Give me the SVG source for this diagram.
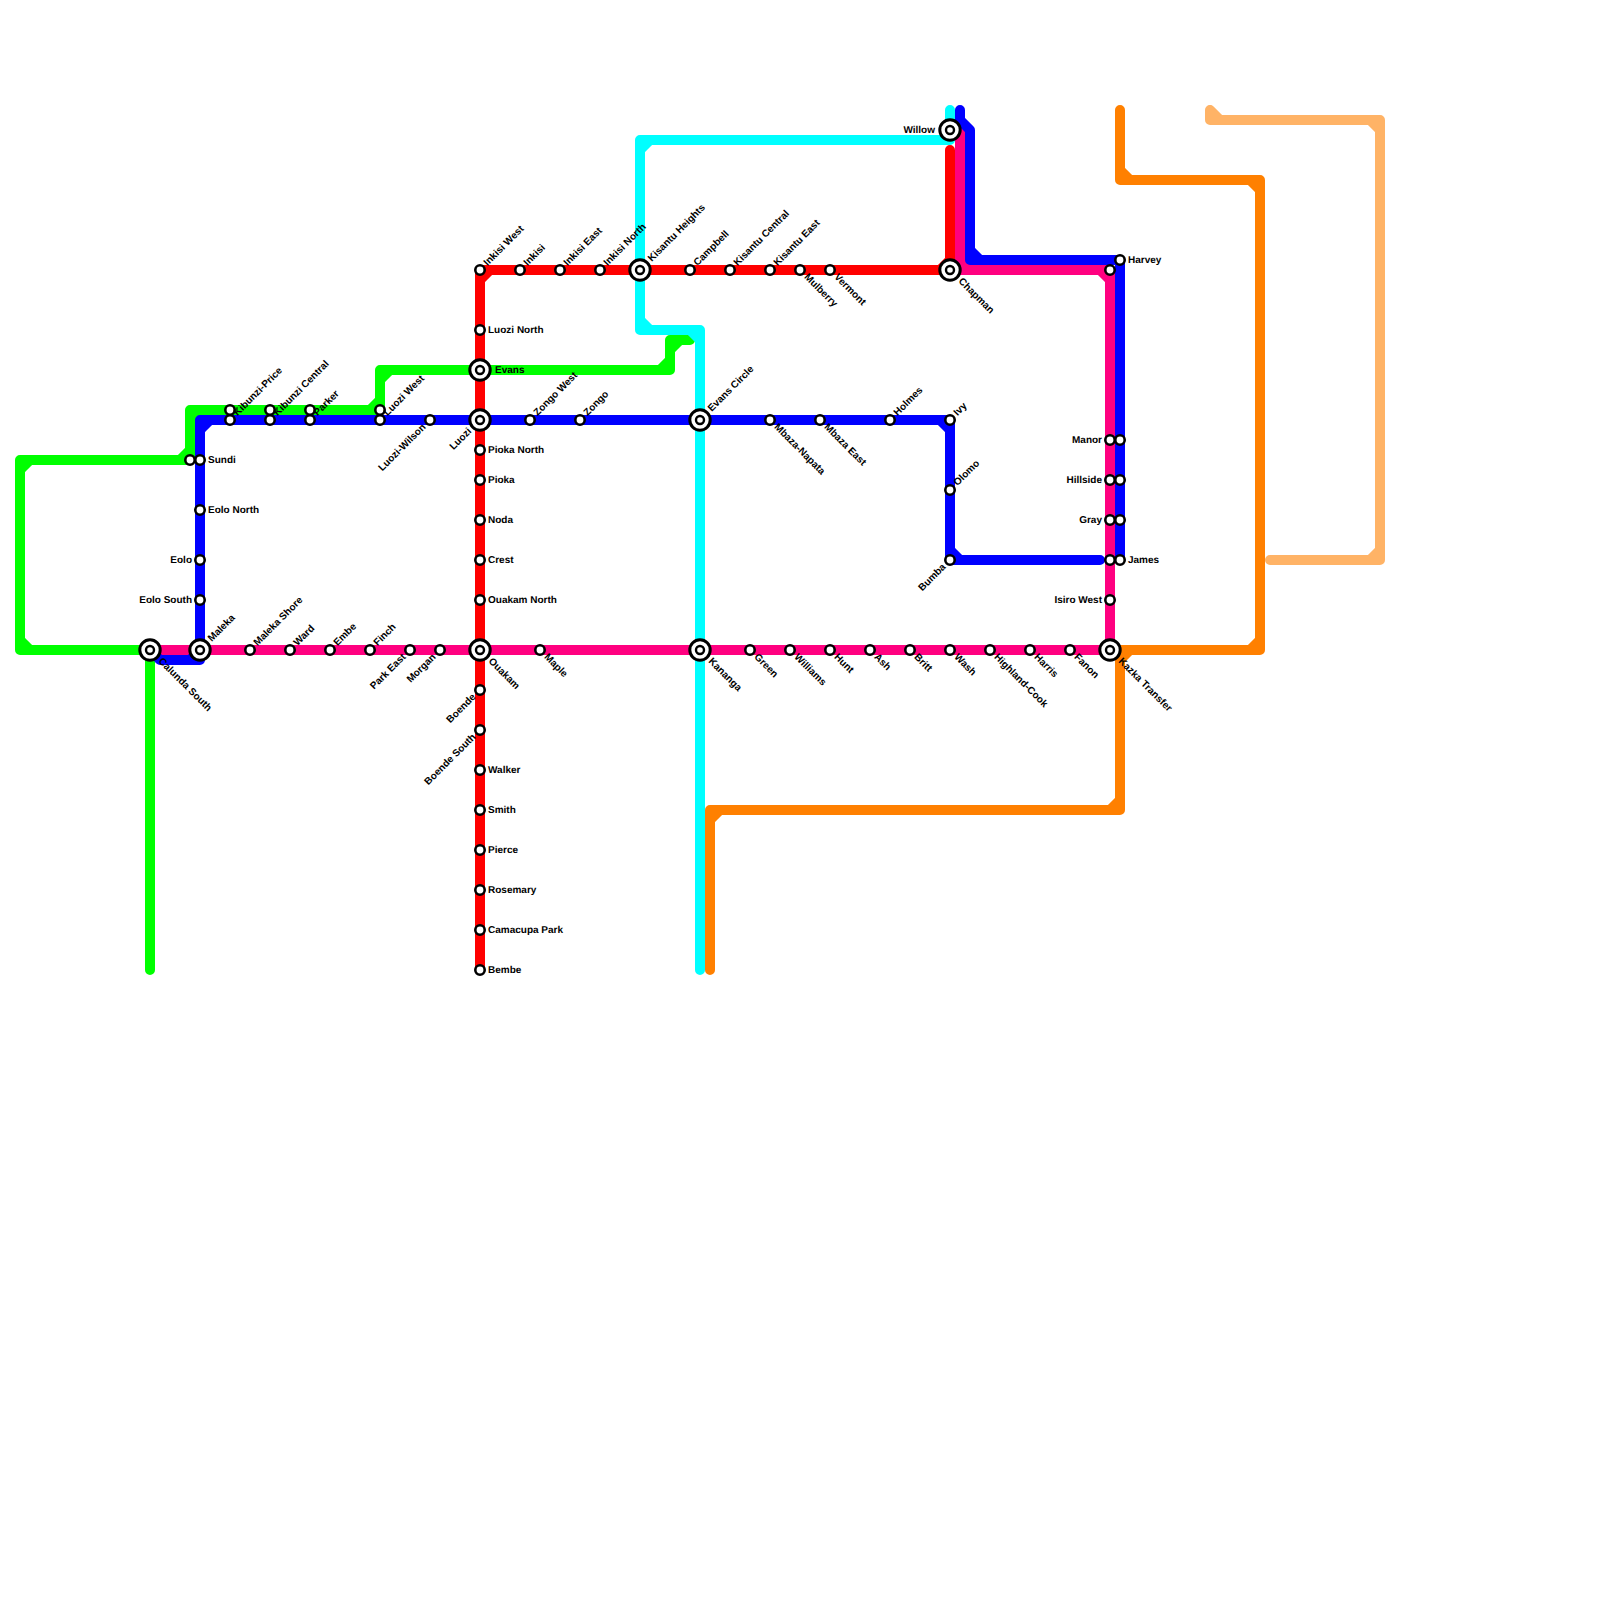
<svg xmlns="http://www.w3.org/2000/svg" width="1600" height="1600" viewBox="0 0 1600 1600">
<style>
.ln{fill:none;stroke-width:10;stroke-linecap:round;stroke-linejoin:round}
.s{fill:#fff;stroke:#000;stroke-width:2.6}
.o{fill:#fff;stroke:#000;stroke-width:3}
.c{fill:#fff;stroke:#000;stroke-width:2.4}
text{font-family:"Liberation Sans",Arial,sans-serif;font-weight:700;font-size:10px;fill:#000;text-rendering:geometricPrecision}
.e{text-anchor:end}
</style>
<rect width="1600" height="1600" fill="#fff"/>
<g id="connectors">
<path id="line-peach" class="ln" stroke="#ffb366" d="M1210 110V120H1380V560H1270M1210 110L1220 120M1370 120L1380 130M1380 550L1370 560"/>
<path id="line-orange" class="ln" stroke="#ff8000" d="M1120 110V180H1260V650H1120V810H710V970M1120 170L1130 180M1250 180L1260 190M1260 640L1250 650M1120 660L1130 650M1120 800L1110 810M710 820L720 810"/>
<path id="line-lime" class="ln" stroke="#00ff00" d="M150 970V650H20V460H190V410H380V370H670V340H690M30 650L20 640M20 470L30 460M180 460L190 450M190 420L200 410M370 410L380 400M380 380L390 370M660 370L670 360M670 350L680 340"/>
<path id="line-cyan" class="ln" stroke="#00ffff" d="M950 110V140H640V330H700V970M640 150L650 140M640 320L650 330M690 330L700 340"/>
<path id="line-pink" class="ln" stroke="#ff0080" d="M150 650H1110V270H960V125M1110 280L1100 270M960 260L970 270"/>
<path id="line-red" class="ln" stroke="#ff0000" d="M480 970V270H950V150M480 280L490 270M940 270L950 260"/>
<path id="line-blue-1" class="ln" stroke="#0000ff" d="M150 650L160 660H200V420H950V560H1100M190 660L200 650M200 430L210 420M940 420L950 430M950 550L960 560"/>
<path id="line-blue-2" class="ln" stroke="#0000ff" d="M1120 560V260H970V130L960 120V110M970 250L980 260"/>
</g>
<g id="stations">
<g id="n-unnamed-190-460" transform="translate(190 460)"><circle class="s" r="4.7"/></g>
<g id="n-sundi" transform="translate(200 460)"><circle class="s" r="4.7"/><text x="8" y="2.7">Sundi</text></g>
<g id="n-eolo-north" transform="translate(200 510)"><circle class="s" r="4.7"/><text x="8" y="2.7">Eolo North</text></g>
<g id="n-eolo" transform="translate(200 560)"><circle class="s" r="4.7"/><text class="e" x="-8" y="2.7">Eolo</text></g>
<g id="n-eolo-south" transform="translate(200 600)"><circle class="s" r="4.7"/><text class="e" x="-8" y="2.7">Eolo South</text></g>
<g id="n-unnamed-230-410" transform="translate(230 410)"><circle class="s" r="4.7"/></g>
<g id="n-kibunzi-price" transform="translate(230 420)"><circle class="s" r="4.7"/><text x="8" y="2.7" transform="rotate(-45)">Kibunzi-Price</text></g>
<g id="n-unnamed-270-410" transform="translate(270 410)"><circle class="s" r="4.7"/></g>
<g id="n-kibunzi-central" transform="translate(270 420)"><circle class="s" r="4.7"/><text x="8" y="2.7" transform="rotate(-45)">Kibunzi Central</text></g>
<g id="n-unnamed-310-410" transform="translate(310 410)"><circle class="s" r="4.7"/></g>
<g id="n-parker" transform="translate(310 420)"><circle class="s" r="4.7"/><text x="8" y="2.7" transform="rotate(-45)">Parker</text></g>
<g id="n-unnamed-380-410" transform="translate(380 410)"><circle class="s" r="4.7"/></g>
<g id="n-luozi-west" transform="translate(380 420)"><circle class="s" r="4.7"/><text x="8" y="2.7" transform="rotate(-45)">Luozi West</text></g>
<g id="n-luozi-wilson" transform="translate(430 420)"><circle class="s" r="4.7"/><text class="e" x="-8" y="2.7" transform="rotate(-45)">Luozi-Wilson</text></g>
<g id="n-maleka-shore" transform="translate(250 650)"><circle class="s" r="4.7"/><text x="8" y="2.7" transform="rotate(-45)">Maleka Shore</text></g>
<g id="n-ward" transform="translate(290 650)"><circle class="s" r="4.7"/><text x="8" y="2.7" transform="rotate(-45)">Ward</text></g>
<g id="n-embe" transform="translate(330 650)"><circle class="s" r="4.7"/><text x="8" y="2.7" transform="rotate(-45)">Embe</text></g>
<g id="n-finch" transform="translate(370 650)"><circle class="s" r="4.7"/><text x="8" y="2.7" transform="rotate(-45)">Finch</text></g>
<g id="n-park-east" transform="translate(410 650)"><circle class="s" r="4.7"/><text class="e" x="-8" y="2.7" transform="rotate(-45)">Park East</text></g>
<g id="n-morgan" transform="translate(440 650)"><circle class="s" r="4.7"/><text class="e" x="-8" y="2.7" transform="rotate(-45)">Morgan</text></g>
<g id="n-maple" transform="translate(540 650)"><circle class="s" r="4.7"/><text x="8" y="2.7" transform="rotate(45)">Maple</text></g>
<g id="n-green" transform="translate(750 650)"><circle class="s" r="4.7"/><text x="8" y="2.7" transform="rotate(45)">Green</text></g>
<g id="n-williams" transform="translate(790 650)"><circle class="s" r="4.7"/><text x="8" y="2.7" transform="rotate(45)">Williams</text></g>
<g id="n-hunt" transform="translate(830 650)"><circle class="s" r="4.7"/><text x="8" y="2.7" transform="rotate(45)">Hunt</text></g>
<g id="n-ash" transform="translate(870 650)"><circle class="s" r="4.7"/><text x="8" y="2.7" transform="rotate(45)">Ash</text></g>
<g id="n-britt" transform="translate(910 650)"><circle class="s" r="4.7"/><text x="8" y="2.7" transform="rotate(45)">Britt</text></g>
<g id="n-wash" transform="translate(950 650)"><circle class="s" r="4.7"/><text x="8" y="2.7" transform="rotate(45)">Wash</text></g>
<g id="n-highland-cook" transform="translate(990 650)"><circle class="s" r="4.7"/><text x="8" y="2.7" transform="rotate(45)">Highland-Cook</text></g>
<g id="n-harris" transform="translate(1030 650)"><circle class="s" r="4.7"/><text x="8" y="2.7" transform="rotate(45)">Harris</text></g>
<g id="n-fanon" transform="translate(1070 650)"><circle class="s" r="4.7"/><text x="8" y="2.7" transform="rotate(45)">Fanon</text></g>
<g id="n-inkisi-west" transform="translate(480 270)"><circle class="s" r="4.7"/><text x="8" y="2.7" transform="rotate(-45)">Inkisi West</text></g>
<g id="n-inkisi" transform="translate(520 270)"><circle class="s" r="4.7"/><text x="8" y="2.7" transform="rotate(-45)">Inkisi</text></g>
<g id="n-inkisi-east" transform="translate(560 270)"><circle class="s" r="4.7"/><text x="8" y="2.7" transform="rotate(-45)">Inkisi East</text></g>
<g id="n-inkisi-north" transform="translate(600 270)"><circle class="s" r="4.7"/><text x="8" y="2.7" transform="rotate(-45)">Inkisi North</text></g>
<g id="n-campbell" transform="translate(690 270)"><circle class="s" r="4.7"/><text x="8" y="2.7" transform="rotate(-45)">Campbell</text></g>
<g id="n-kisantu-central" transform="translate(730 270)"><circle class="s" r="4.7"/><text x="8" y="2.7" transform="rotate(-45)">Kisantu Central</text></g>
<g id="n-kisantu-east" transform="translate(770 270)"><circle class="s" r="4.7"/><text x="8" y="2.7" transform="rotate(-45)">Kisantu East</text></g>
<g id="n-mulberry" transform="translate(800 270)"><circle class="s" r="4.7"/><text x="8" y="2.7" transform="rotate(45)">Mulberry</text></g>
<g id="n-vermont" transform="translate(830 270)"><circle class="s" r="4.7"/><text x="8" y="2.7" transform="rotate(45)">Vermont</text></g>
<g id="n-luozi-north" transform="translate(480 330)"><circle class="s" r="4.7"/><text x="8" y="2.7">Luozi North</text></g>
<g id="n-pioka-north" transform="translate(480 450)"><circle class="s" r="4.7"/><text x="8" y="2.7">Pioka North</text></g>
<g id="n-pioka" transform="translate(480 480)"><circle class="s" r="4.7"/><text x="8" y="2.7">Pioka</text></g>
<g id="n-noda" transform="translate(480 520)"><circle class="s" r="4.7"/><text x="8" y="2.7">Noda</text></g>
<g id="n-crest" transform="translate(480 560)"><circle class="s" r="4.7"/><text x="8" y="2.7">Crest</text></g>
<g id="n-ouakam-north" transform="translate(480 600)"><circle class="s" r="4.7"/><text x="8" y="2.7">Ouakam North</text></g>
<g id="n-boende" transform="translate(480 690)"><circle class="s" r="4.7"/><text class="e" x="-8" y="2.7" transform="rotate(-45)">Boende</text></g>
<g id="n-boende-south" transform="translate(480 730)"><circle class="s" r="4.7"/><text class="e" x="-8" y="2.7" transform="rotate(-45)">Boende South</text></g>
<g id="n-walker" transform="translate(480 770)"><circle class="s" r="4.7"/><text x="8" y="2.7">Walker</text></g>
<g id="n-smith" transform="translate(480 810)"><circle class="s" r="4.7"/><text x="8" y="2.7">Smith</text></g>
<g id="n-pierce" transform="translate(480 850)"><circle class="s" r="4.7"/><text x="8" y="2.7">Pierce</text></g>
<g id="n-rosemary" transform="translate(480 890)"><circle class="s" r="4.7"/><text x="8" y="2.7">Rosemary</text></g>
<g id="n-camacupa-park" transform="translate(480 930)"><circle class="s" r="4.7"/><text x="8" y="2.7">Camacupa Park</text></g>
<g id="n-bembe" transform="translate(480 970)"><circle class="s" r="4.7"/><text x="8" y="2.7">Bembe</text></g>
<g id="n-zongo-west" transform="translate(530 420)"><circle class="s" r="4.7"/><text x="8" y="2.7" transform="rotate(-45)">Zongo West</text></g>
<g id="n-zongo" transform="translate(580 420)"><circle class="s" r="4.7"/><text x="8" y="2.7" transform="rotate(-45)">Zongo</text></g>
<g id="n-mbaza-napata" transform="translate(770 420)"><circle class="s" r="4.7"/><text x="8" y="2.7" transform="rotate(45)">Mbaza-Napata</text></g>
<g id="n-mbaza-east" transform="translate(820 420)"><circle class="s" r="4.7"/><text x="8" y="2.7" transform="rotate(45)">Mbaza East</text></g>
<g id="n-holmes" transform="translate(890 420)"><circle class="s" r="4.7"/><text x="8" y="2.7" transform="rotate(-45)">Holmes</text></g>
<g id="n-ivy" transform="translate(950 420)"><circle class="s" r="4.7"/><text x="8" y="2.7" transform="rotate(-45)">Ivy</text></g>
<g id="n-olomo" transform="translate(950 490)"><circle class="s" r="4.7"/><text x="8" y="2.7" transform="rotate(-45)">Olomo</text></g>
<g id="n-bumba" transform="translate(950 560)"><circle class="s" r="4.7"/><text class="e" x="-8" y="2.7" transform="rotate(-45)">Bumba</text></g>
<g id="n-unnamed-1110-270" transform="translate(1110 270)"><circle class="s" r="4.7"/></g>
<g id="n-harvey" transform="translate(1120 260)"><circle class="s" r="4.7"/><text x="8" y="2.7">Harvey</text></g>
<g id="n-manor" transform="translate(1110 440)"><circle class="s" r="4.7"/><text class="e" x="-8" y="2.7">Manor</text></g>
<g id="n-unnamed-1120-440" transform="translate(1120 440)"><circle class="s" r="4.7"/></g>
<g id="n-hillside" transform="translate(1110 480)"><circle class="s" r="4.7"/><text class="e" x="-8" y="2.7">Hillside</text></g>
<g id="n-unnamed-1120-480" transform="translate(1120 480)"><circle class="s" r="4.7"/></g>
<g id="n-gray" transform="translate(1110 520)"><circle class="s" r="4.7"/><text class="e" x="-8" y="2.7">Gray</text></g>
<g id="n-unnamed-1120-520" transform="translate(1120 520)"><circle class="s" r="4.7"/></g>
<g id="n-unnamed-1110-560" transform="translate(1110 560)"><circle class="s" r="4.7"/></g>
<g id="n-james" transform="translate(1120 560)"><circle class="s" r="4.7"/><text x="8" y="2.7">James</text></g>
<g id="n-isiro-west" transform="translate(1110 600)"><circle class="s" r="4.7"/><text class="e" x="-8" y="2.7">Isiro West</text></g>
<g id="n-calunda-south" transform="translate(150 650)"><circle class="o" r="10.2"/><circle class="c" r="4"/><text x="14" y="2.7" transform="rotate(45)">Calunda South</text></g>
<g id="n-maleka" transform="translate(200 650)"><circle class="o" r="10.2"/><circle class="c" r="4"/><text x="14" y="2.7" transform="rotate(-45)">Maleka</text></g>
<g id="n-ouakam" transform="translate(480 650)"><circle class="o" r="10.2"/><circle class="c" r="4"/><text x="14" y="2.7" transform="rotate(45)">Ouakam</text></g>
<g id="n-kananga" transform="translate(700 650)"><circle class="o" r="10.2"/><circle class="c" r="4"/><text x="14" y="2.7" transform="rotate(45)">Kananga</text></g>
<g id="n-kazka-transfer" transform="translate(1110 650)"><circle class="o" r="10.2"/><circle class="c" r="4"/><text x="14" y="2.7" transform="rotate(45)">Kazka Transfer</text></g>
<g id="n-evans" transform="translate(480 370)"><circle class="o" r="10.2"/><circle class="c" r="4"/><text x="15" y="2.7">Evans</text></g>
<g id="n-luozi" transform="translate(480 420)"><circle class="o" r="10.2"/><circle class="c" r="4"/><text class="e" x="-14" y="2.7" transform="rotate(-45)">Luozi</text></g>
<g id="n-evans-circle" transform="translate(700 420)"><circle class="o" r="10.2"/><circle class="c" r="4"/><text x="14" y="2.7" transform="rotate(-45)">Evans Circle</text></g>
<g id="n-kisantu-heights" transform="translate(640 270)"><circle class="o" r="10.2"/><circle class="c" r="4"/><text x="14" y="2.7" transform="rotate(-45)">Kisantu Heights</text></g>
<g id="n-chapman" transform="translate(950 270)"><circle class="o" r="10.2"/><circle class="c" r="4"/><text x="14" y="2.7" transform="rotate(45)">Chapman</text></g>
<g id="n-willow" transform="translate(950 130)"><circle class="o" r="10.2"/><circle class="c" r="4"/><text class="e" x="-15" y="2.7">Willow</text></g>
</g>
</svg>
